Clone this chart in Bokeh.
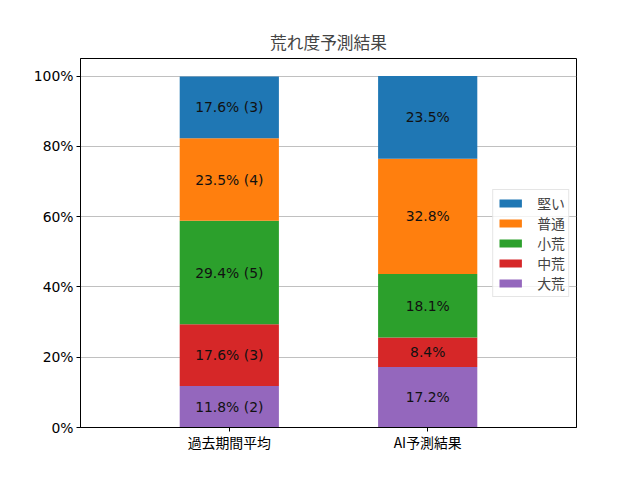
from bokeh.plotting import figure
from bokeh.models import Range1d, FixedTicker, PrintfTickFormatter, ColumnDataSource, Legend, LegendItem
from bokeh.core.properties import value
from bokeh.embed import file_html
from bokeh.resources import INLINE

groups = ["過去期間平均", "AI予測結果"]
levels = ["大荒", "中荒", "小荒", "普通", "堅い"]
colors = ["#9467bd", "#d62728", "#2ca02c", "#ff7f0e", "#1f77b4"]

past_pct = [11.8, 17.6, 29.4, 23.5, 17.6]
past_cnt = [2, 3, 5, 4, 3]
ai_pct = [17.2, 8.4, 18.1, 32.8, 23.5]

y_ticks = [0, 20, 40, 60, 80, 100]

JP = "Noto Sans CJK JP"
LAT = "DejaVu Sans"
FS = "13.9px"

p = figure(width=624, height=464, output_backend="svg", toolbar_location=None,
           x_range=Range1d(-0.75, 1.75), y_range=Range1d(0, 105),
           min_border_left=80, min_border_right=48, min_border_top=58, min_border_bottom=37)

xs = [0, 1]
data = {"x": xs}
for i, lv in enumerate(levels):
    data[lv] = [past_pct[i], ai_pct[i]]
src = ColumnDataSource(data)
renderers = p.vbar_stack(levels, x="x", width=0.5, color=colors, line_color=None, source=src)

# labels
lx, ly, lt = [], [], []
for gi, vals in enumerate([past_pct, ai_pct]):
    bottom = 0.0
    for i, v in enumerate(vals):
        lx.append(xs[gi])
        ly.append(bottom + v / 2)
        if gi == 0:
            lt.append(f"{v:.1f}% ({past_cnt[i]})")
        else:
            lt.append(f"{v:.1f}%")
        bottom += v
p.text(x=lx, y=ly, text=lt, text_align="center", text_baseline="middle",
       text_font=value(LAT), text_font_size=FS, text_color="#111111")

legend = Legend(items=[LegendItem(label=levels[i], renderers=[renderers[i]]) for i in reversed(range(len(levels)))],
                location="center_right")
legend.label_text_font = JP
legend.label_text_font_size = FS
legend.glyph_width = 28
legend.glyph_height = 10
legend.spacing = 0
legend.padding = 3
legend.margin = 7
legend.label_standoff = 13
legend.border_line_color = "#cccccc"
legend.border_line_width = 1
legend.background_fill_alpha = 0.8
p.add_layout(legend, "center")

p.title.text = "荒れ度予測結果"
p.title.align = "center"
p.title.text_font = JP
p.title.text_font_size = "16.7px"
p.title.text_font_style = "normal"

p.xaxis.ticker = FixedTicker(ticks=xs)
p.xaxis.major_label_overrides = {0: groups[0], 1: groups[1]}
p.xaxis.major_label_text_font = JP
p.xaxis.major_label_text_font_size = FS
p.yaxis.ticker = FixedTicker(ticks=y_ticks)
p.yaxis.formatter = PrintfTickFormatter(format="%d%%")
p.yaxis.major_label_text_font = LAT
p.yaxis.major_label_text_font_size = FS
for ax in [p.xaxis, p.yaxis]:
    ax.axis_line_color = "black"
    ax.major_tick_line_color = "black"
    ax.major_tick_out = 4
    ax.major_tick_in = 0
    ax.minor_tick_line_color = None
    ax.major_label_text_color = "black"
p.yaxis.major_label_standoff = 3
p.xaxis.major_label_standoff = 0

p.xgrid.grid_line_color = None
p.ygrid.grid_line_color = "#b0b0b0"
p.ygrid.grid_line_width = 0.8
p.outline_line_color = "black"
p.outline_line_alpha = 1.0

open("out.html", "w").write(file_html(p, INLINE))
